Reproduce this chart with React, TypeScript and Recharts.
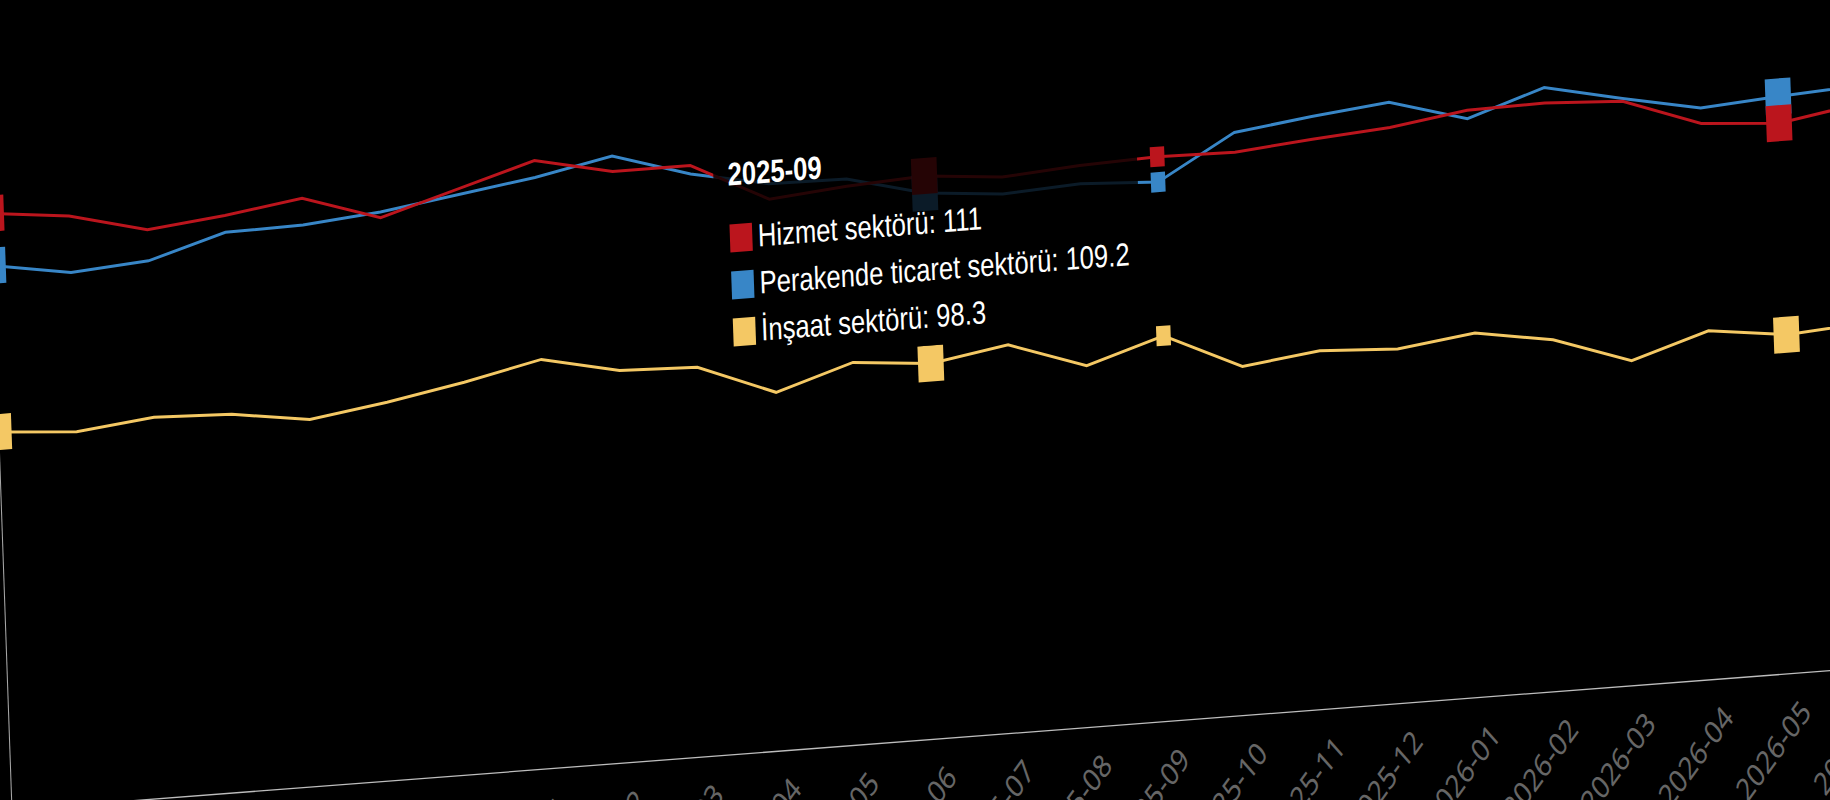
import { LineChart, Line, XAxis, YAxis, Tooltip } from "recharts";

const months = [
    "2024-06", "2024-07", "2024-08", "2024-09", "2024-10", "2024-11", "2024-12",
    "2025-01", "2025-02", "2025-03", "2025-04", "2025-05", "2025-06", "2025-07",
    "2025-08", "2025-09", "2025-10", "2025-11", "2025-12", "2026-01", "2026-02",
    "2026-03", "2026-04", "2026-05", "2026-06"
];

const hizmet = [
    113.3, 112.7, 111.3, 111.9, 112.7, 110.9, 112.5, 114.1, 112.9, 112.9, 110.1, 110.6,
    110.9, 110.4, 110.8, 111, 110.9, 111.4, 111.8, 112.6, 112.7, 112.4, 110.4, 110.0, 110.9
];

const perakende = [
    109.6, 108.7, 109.1, 110.7, 110.8, 111.3, 112.1, 112.9, 114.0, 112.3, 111.2, 111.1,
    109.7, 109.2, 109.5, 109.2, 112.3, 113.0, 113.6, 112.0, 113.8, 112.6, 111.5, 111.9, 112.2
];

const insaat = [
    97.8, 97.4, 98.0, 97.8, 97.0, 97.8, 98.8, 100.0, 98.8, 98.6, 96.4, 98.1,
    97.6, 98.5, 96.6, 98.3, 95.7, 96.4, 96.1, 96.8, 95.9, 94.0, 95.7, 95.0, 95.4
];

// months that carry a square marker on every line
const markedMonths = ["2024-06", "2025-06", "2026-05"];
const activeMonth = "2025-09";

const SERIES = [
    { key: "hizmet", name: "Hizmet sektörü", color: "#bb151d" },
    { key: "perakende", name: "Perakende ticaret sektörü", color: "#3886c7" },
    { key: "insaat", name: "İnşaat sektörü", color: "#f4c864" },
];

const data = months.map((month, i) => ({
    month,
    hizmet: hizmet[i],
    perakende: perakende[i],
    insaat: insaat[i],
}));

const colorOf = (key: string) => SERIES.find((s) => s.key === key)!.color;

function squareDot(color: string) {
    return (props: any) => {
        const { cx, cy, payload, index } = props;
        if (cx == null || cy == null || !markedMonths.includes(payload.month)) {
            return <g key={`dot-${index}`} />;
        }
        return <rect key={`dot-${index}`} x={cx - 16} y={cy - 18} width={32} height={36} fill={color} />;
    };
}

function activeSquare(color: string) {
    return (props: any) => {
        const { cx, cy } = props;
        if (cx == null || cy == null) return <g />;
        return <rect x={cx - 9} y={cy - 10} width={18} height={20} fill={color} />;
    };
}

function MonthTick({ x, y, payload }: any) {
    return (
        <g transform={`translate(${x},${y + 17})`}>
            <text
                textAnchor="end"
                transform="rotate(-45)"
                dy="0.71em"
                fill="#666666"
                fontSize={32}
                fontFamily="'Noto Sans', sans-serif"
            >
                {payload.value}
            </text>
        </g>
    );
}

function TipContent({ active, payload, label }: any) {
    if (!active || !payload || !payload.length) return null;
    const values: Record<string, number> = {};
    payload.forEach((p: any) => {
        values[p.dataKey] = p.value;
    });
    return (
        <div
            style={{
                background: "rgba(0, 0, 0, 0.8)",
                padding: "16px 13px 5px 18px",
                color: "#ffffff",
                fontFamily: "'Liberation Sans', Arial, sans-serif",
                whiteSpace: "nowrap",
            }}
        >
            <div style={{ fontWeight: 700, fontSize: 32, lineHeight: "36px", marginBottom: 22 }}>{label}</div>
            {SERIES.map((s) => (
                <div key={s.key} style={{ display: "flex", alignItems: "center", height: 47, fontSize: 32 }}>
                    <span style={{ width: 28, height: 28, background: s.color, marginRight: 7, display: "inline-block" }} />
                    {s.name}: {values[s.key]}
                </div>
            ))}
        </div>
    );
}

export default function App() {
    return (
        <div
            style={{
                position: "fixed",
                left: 0,
                top: 0,
                width: 1830,
                height: 800,
                overflow: "hidden",
                background: "#000000",
            }}
        >
            <div
                style={{
                    position: "absolute",
                    left: 0,
                    top: 0,
                    width: 2470,
                    height: 915,
                    transformOrigin: "0 0",
                    transform: "matrix(0.8, -0.0613, 0.035, 1, -94.1, 71.1)",
                }}
            >
                <LineChart
                    width={2470}
                    height={915}
                    data={data}
                    margin={{ top: 40, right: 40, left: 20, bottom: 10 }}
                >
                    <XAxis
                        dataKey="month"
                        interval={0}
                        height={160}
                        tickLine={false}
                        axisLine={{ stroke: "#bdbdbd", strokeWidth: 1.3 }}
                        tick={<MonthTick />}
                    />
                    <YAxis
                        domain={[71, 121]}
                        allowDataOverflow
                        width={80}
                        tick={false}
                        tickLine={false}
                        axisLine={{ stroke: "#a8a8a8", strokeWidth: 1.3 }}
                    />
                    <Tooltip
                        content={<TipContent />}
                        defaultIndex={months.indexOf(activeMonth)}
                        active
                        cursor={false}
                        position={{ x: 1002, y: 132 }}
                        isAnimationActive={false}
                        wrapperStyle={{ outline: "none", zIndex: 5 }}
                    />
                    <Line
                        type="linear"
                        dataKey="insaat"
                        name="İnşaat sektörü"
                        stroke={colorOf("insaat")}
                        strokeWidth={3}
                        dot={squareDot(colorOf("insaat"))}
                        activeDot={activeSquare(colorOf("insaat"))}
                        isAnimationActive={false}
                    />
                    <Line
                        type="linear"
                        dataKey="perakende"
                        name="Perakende ticaret sektörü"
                        stroke={colorOf("perakende")}
                        strokeWidth={3}
                        dot={squareDot(colorOf("perakende"))}
                        activeDot={activeSquare(colorOf("perakende"))}
                        isAnimationActive={false}
                    />
                    <Line
                        type="linear"
                        dataKey="hizmet"
                        name="Hizmet sektörü"
                        stroke={colorOf("hizmet")}
                        strokeWidth={3}
                        dot={squareDot(colorOf("hizmet"))}
                        activeDot={activeSquare(colorOf("hizmet"))}
                        isAnimationActive={false}
                    />
                </LineChart>
            </div>
        </div>
    );
}
